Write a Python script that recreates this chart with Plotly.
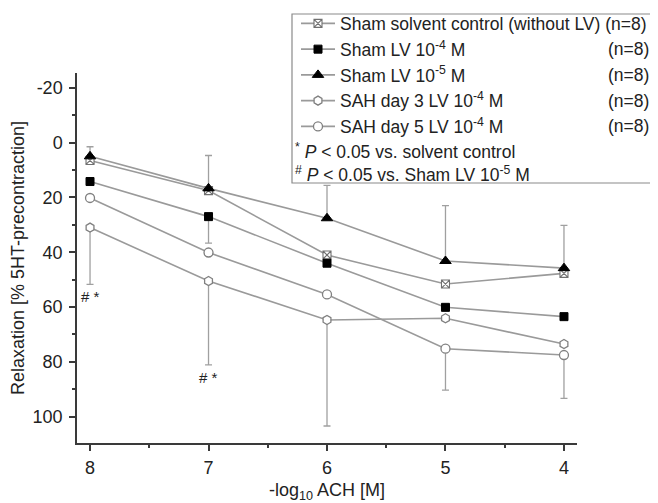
import plotly.graph_objects as go

# ---------------- data ----------------
x_vals = [8, 7, 6, 5, 4]  # -log10 ACH [M]

names = [
    "Sham solvent control (without LV)",
    "Sham LV 10<sup>-4</sup> M",
    "Sham LV 10<sup>-5</sup> M",
    "SAH day 3 LV 10<sup>-4</sup> M",
    "SAH day 5 LV 10<sup>-4</sup> M",
]
n_labels = ["(n=8)", "(n=8)", "(n=8)", "(n=8)", "(n=8)"]

solvent = [6.5, 17.5, 41.0, 51.6, 47.7]
lv4 = [14.2, 27.0, 44.0, 60.1, 63.5]
lv5 = [5.0, 16.7, 27.6, 43.2, 45.8]
sah3 = [31.0, 50.5, 64.7, 64.1, 73.5]
sah5 = [20.2, 40.1, 55.4, 75.2, 77.5]

# one-sided error bars (plus = downward on reversed axis, minus = upward)
solvent_err_plus = [0, 0, 0, 0, 0]
solvent_err_minus = [0, 0, 0, 0, 0]
lv4_err_plus = [0, 9.7, 0, 0, 0]
lv4_err_minus = [0, 0, 0, 0, 0]
lv5_err_plus = [0, 0, 0, 0, 0]
lv5_err_minus = [3.5, 12.0, 12.0, 20.2, 15.6]
sah3_err_plus = [20.7, 30.6, 38.7, 0, 0]
sah3_err_minus = [0, 0, 0, 0, 0]
sah5_err_plus = [0, 0, 0, 15.1, 15.8]
sah5_err_minus = [0, 0, 0, 0, 0]

sig_labels = ["# *", "# *", "", "", ""]  # significance marks under SAH day 3

footnotes = [
    "<sup>*</sup> <i>P</i> < 0.05 vs. solvent control",
    "<sup>#</sup> <i>P</i> < 0.05 vs. Sham LV 10<sup>-5</sup> M",
]

x_ticks = [8, 7, 6, 5, 4]
x_ticktext = ["8", "7", "6", "5", "4"]
y_ticks = [-20, 0, 20, 40, 60, 80, 100]
y_ticktext = ["-20", "0", "20", "40", "60", "80", "100"]

# ---------------- style ----------------
FONT = "Liberation Sans, Arial, sans-serif"
FS = 18
LFS = 17.5
LINE_C = "#9a9a9a"
ERR_C = "#a0a0a0"
AX_C = "#3a3a3a"
TXT_C = "#222222"

# page body has an 8px margin -> compensate so plot area sits where the reference has it
OFF = 8
W, H = 658 - OFF, 503 - OFF
PL, PR, PT, PB = 77, 577, 73, 443  # plot area in screen pixels
ML, MR, MT, MB = PL - OFF, W + OFF - PR, PT - OFF, H + OFF - PB


def px_x(px):
    return (px - PL) / (PR - PL)


def px_y(py):
    return (PB - py) / (PB - PT)


series = [
    (solvent, solvent_err_plus, solvent_err_minus,
     dict(symbol="square-x", size=8, color="white", line=dict(color="#707070", width=1.1))),
    (lv4, lv4_err_plus, lv4_err_minus,
     dict(symbol="square", size=8, color="black", line=dict(color="black", width=1))),
    (lv5, lv5_err_plus, lv5_err_minus,
     dict(symbol="triangle-up", size=10, color="black", line=dict(color="black", width=1))),
    (sah3, sah3_err_plus, sah3_err_minus,
     dict(symbol="hexagon", size=9, color="white", line=dict(color="#808080", width=1.3))),
    (sah5, sah5_err_plus, sah5_err_minus,
     dict(symbol="circle", size=9, color="white", line=dict(color="#808080", width=1.3))),
]

# first legend row carries its (n=8) inline; the others get right-aligned labels
legend_names = [names[0] + " " + n_labels[0]] + names[1:]

fig = go.Figure()
for name, (vals, ep, em, mk) in zip(legend_names, series):
    fig.add_trace(go.Scatter(
        x=x_vals, y=vals, name=name, mode="lines+markers",
        line=dict(color=LINE_C, width=1.6),
        marker=mk,
        error_y=dict(type="data", symmetric=False, array=ep, arrayminus=em,
                     color=ERR_C, thickness=1.3, width=3.5),
        cliponaxis=False,
    ))

# significance annotations placed below SAH day 3 error bars
for xv, v, e, lab in zip(x_vals, sah3, sah3_err_plus, sig_labels):
    if lab:
        fig.add_annotation(x=xv, y=v + e, text=lab, showarrow=False,
                           yanchor="top", yshift=-2,
                           font=dict(family=FONT, size=15, color=TXT_C))

# legend frame
fig.add_shape(type="rect", xref="paper", yref="paper",
              x0=px_x(292), x1=px_x(654), y0=px_y(183), y1=px_y(14),
              line=dict(color="#8a8a8a", width=1.2), fillcolor="white", layer="below")

row_y = [23, 49, 75, 100.5, 126.5]
for lab, ry in list(zip(n_labels, row_y))[1:]:
    fig.add_annotation(xref="paper", yref="paper", x=px_x(651), y=px_y(ry),
                       text=lab, showarrow=False, xanchor="right", yanchor="middle",
                       font=dict(family=FONT, size=LFS, color=TXT_C))

fig.add_annotation(xref="paper", yref="paper", x=px_x(293), y=px_y(162.5),
                   text="<br>".join(footnotes), showarrow=False,
                   xanchor="left", yanchor="middle", align="left",
                   font=dict(family=FONT, size=LFS, color=TXT_C))

fig.update_layout(
    width=W, height=H,
    margin=dict(l=ML, r=MR, t=MT, b=MB, pad=0, autoexpand=False),
    paper_bgcolor="white", plot_bgcolor="white",
    font=dict(family=FONT, size=FS, color=TXT_C),
    showlegend=True,
    legend=dict(x=px_x(296), y=px_y(5.5), xanchor="left", yanchor="top",
                bgcolor="rgba(0,0,0,0)", borderwidth=0, itemwidth=34,
                tracegroupgap=0, font=dict(family=FONT, size=LFS, color=TXT_C)),
)

fig.update_xaxes(
    range=[8.11, 3.89], tickvals=x_ticks, ticktext=x_ticktext,
    showline=True, linecolor=AX_C, linewidth=1.5, ticks="outside", ticklen=6,
    tickwidth=1.5, tickcolor=AX_C, showgrid=False, zeroline=False,
    minor=dict(dtick=0.5, tick0=4, ticks="outside", ticklen=3.5, tickwidth=1.5, tickcolor=AX_C, showgrid=False),
    title=dict(text="-log<sub>10</sub> ACH [M]", standoff=15, font=dict(family=FONT, size=FS)),
    tickfont=dict(family=FONT, size=FS), ticklabelstandoff=2,
)
fig.update_yaxes(
    range=[109.6, -25.4], tickvals=y_ticks, ticktext=y_ticktext,
    showline=True, linecolor=AX_C, linewidth=1.5, ticks="outside", ticklen=6,
    tickwidth=1.5, tickcolor=AX_C, showgrid=False, zeroline=False,
    minor=dict(dtick=10, tick0=0, ticks="outside", ticklen=3.5, tickwidth=1.5, tickcolor=AX_C, showgrid=False),
    title=dict(text="Relaxation [% 5HT-precontraction]", standoff=4, font=dict(family=FONT, size=FS)),
    tickfont=dict(family=FONT, size=FS), ticklabelstandoff=3,
)

fig.write_html("out.html")
